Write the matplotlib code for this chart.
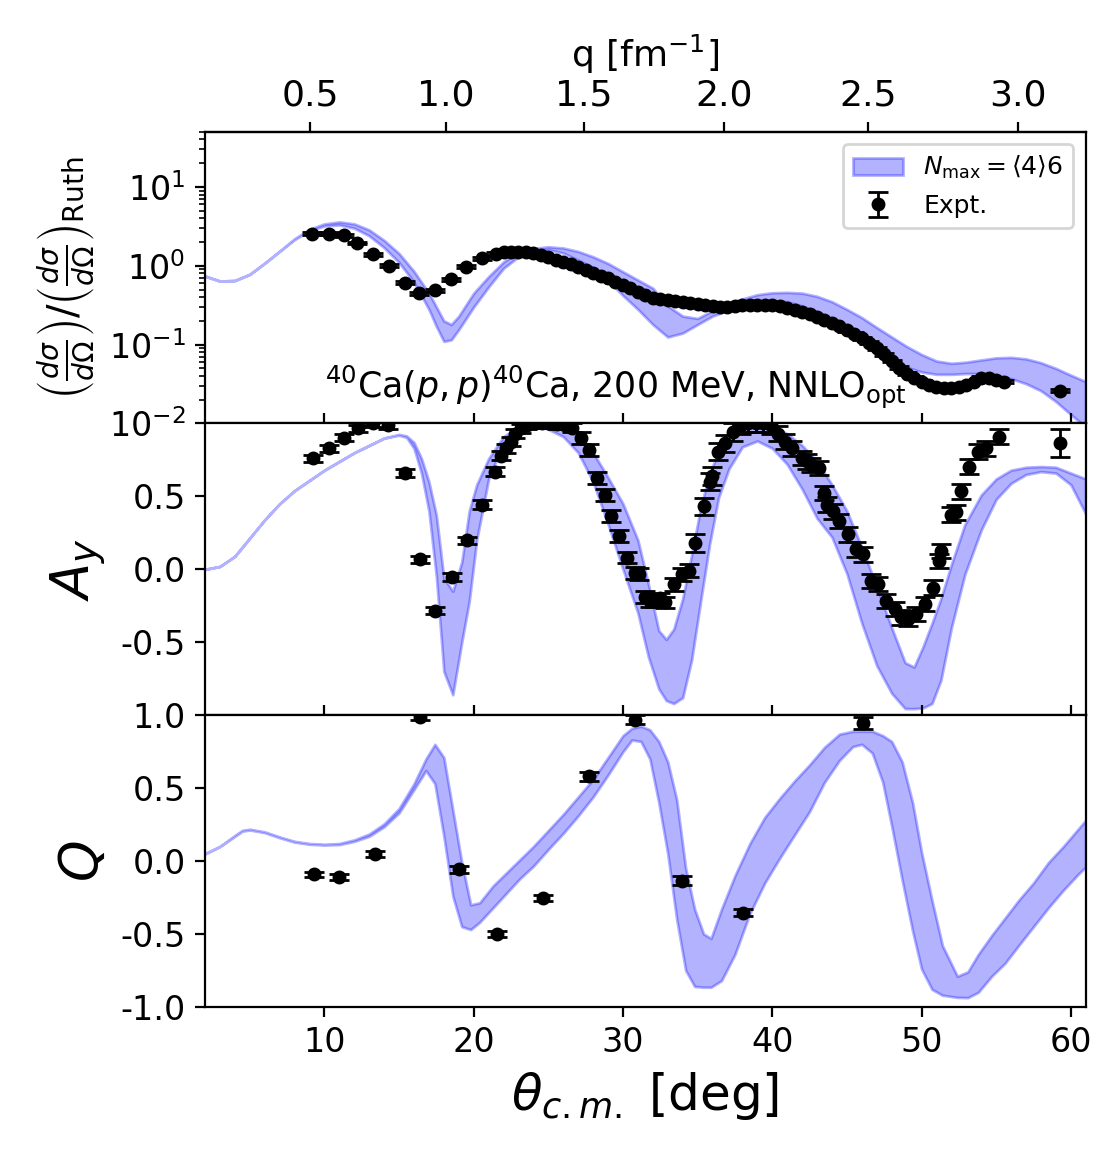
import numpy as np
import matplotlib
matplotlib.use("Agg")
from matplotlib import pyplot as plt

plt.rcParams['axes.unicode_minus'] = False

# ---- theory band: dsigma/dOmega ratio to Rutherford ----
th_xs = [2, 3, 4, 5, 6, 7, 8, 9, 10, 11, 12, 13, 14, 15, 16, 17, 17.5, 18, 18.5, 19,
         20, 21, 22, 23, 24, 25, 26, 27, 28, 29, 30, 31, 32, 33, 34, 35, 36, 37, 38, 39,
         40, 41, 42, 43, 44, 45, 46, 47, 48, 49, 50, 51, 52, 53, 54, 55, 56, 57, 58, 59, 60, 61]
xs_lo = [0.74, 0.64, 0.65, 0.78, 1.08, 1.53, 2.15, 2.8, 3.2, 3.3, 3.0, 2.4, 1.7, 1.1, 0.62, 0.28, 0.17, 0.11, 0.115, 0.155,
         0.3, 0.54, 0.93, 1.3, 1.5, 1.6, 1.45, 1.18, 0.95, 0.65, 0.42, 0.28, 0.18, 0.125, 0.14, 0.18, 0.23, 0.27, 0.31, 0.34,
         0.36, 0.35, 0.31, 0.26, 0.21, 0.16, 0.12, 0.085, 0.065, 0.052, 0.045, 0.042, 0.042, 0.043, 0.043, 0.041, 0.037, 0.032, 0.026, 0.019, 0.013, 0.009]
xs_hi = [0.74, 0.64, 0.65, 0.78, 1.08, 1.53, 2.2, 2.9, 3.4, 3.6, 3.4, 2.85, 2.1, 1.43, 0.85, 0.45, 0.3, 0.2, 0.18, 0.23,
         0.45, 0.73, 1.12, 1.5, 1.66, 1.74, 1.68, 1.52, 1.3, 1.07, 0.84, 0.66, 0.52, 0.31, 0.23, 0.215, 0.27, 0.33, 0.38, 0.43,
         0.455, 0.46, 0.45, 0.41, 0.35, 0.28, 0.22, 0.165, 0.125, 0.095, 0.075, 0.062, 0.058, 0.06, 0.064, 0.068, 0.069, 0.066, 0.059, 0.05, 0.041, 0.034]

# ---- experiment: cross section ratio ----
ex_xs_th = [9.19, 10.3, 11.29, 12.17, 13.24, 14.31, 15.43, 16.36, 17.43, 18.48, 19.48, 20.55,
            21.5, 22.0, 22.5, 23.0, 23.5, 24.0, 24.5, 25.0, 25.5, 26.0, 26.5, 27.0, 27.5, 28.0,
            28.5, 29.0, 29.5, 30.0, 30.5, 31.0, 31.5, 32.0, 32.5, 33.0, 33.5, 34.0, 34.5, 35.0,
            35.5, 36.0, 36.5, 37.0, 37.5, 38.0, 38.5, 39.0, 39.5, 40.0, 40.5, 41.0, 41.5, 42.0,
            42.5, 43.0, 43.5, 44.0, 44.5, 45.0, 45.5, 46.0, 46.5, 47.0, 47.5, 48.0, 48.5, 49.0,
            49.5, 50.0, 50.5, 51.0, 51.5, 52.0, 52.5, 53.0, 53.5, 54.0, 54.5, 55.0, 55.5, 59.3]
ex_xs = [2.56, 2.56, 2.44, 1.95, 1.39, 1.0, 0.61, 0.45, 0.49, 0.67, 0.97, 1.24,
         1.43, 1.48, 1.50, 1.50, 1.49, 1.46, 1.36, 1.28, 1.20, 1.12, 1.04, 0.96, 0.88, 0.81,
         0.75, 0.69, 0.63, 0.57, 0.52, 0.47, 0.42, 0.39, 0.375, 0.37, 0.36, 0.35, 0.34, 0.33,
         0.32, 0.31, 0.30, 0.30, 0.31, 0.32, 0.32, 0.315, 0.32, 0.32, 0.31, 0.29, 0.275, 0.26,
         0.245, 0.225, 0.205, 0.19, 0.17, 0.152, 0.137, 0.12, 0.106, 0.09, 0.075, 0.062, 0.051, 0.043,
         0.038, 0.034, 0.031, 0.029, 0.028, 0.028, 0.029, 0.031, 0.034, 0.038, 0.038, 0.036, 0.034, 0.026]
xs_rel_err = 0.04

# ---- theory band: A_y ----
th_ay = [2, 3, 4, 5, 6, 7, 8, 9, 10, 11, 12, 13, 14, 15, 15.5, 16, 16.5, 17, 17.5, 18,
         18.6, 19.2, 19.7, 20.2, 21, 22, 23, 24, 25, 26, 27, 28, 29, 30, 31, 31.7, 32.4, 32.9, 33.4, 34,
         34.6, 35.2, 35.8, 36.4, 37.1, 38, 39, 40, 41, 42, 43, 44, 45, 46, 47, 48, 48.9, 49.5, 50.1, 50.7,
         51.3, 52, 52.9, 54, 55, 56, 57, 58, 59, 60, 61]
ay_lo = [0.0, 0.02, 0.09, 0.215, 0.34, 0.45, 0.54, 0.61, 0.68, 0.74, 0.80, 0.85, 0.90, 0.92, 0.905, 0.83, 0.66, 0.40, -0.05, -0.70,
         -0.86, -0.50, -0.22, 0.20, 0.62, 0.87, 0.96, 0.99, 0.96, 0.91, 0.80, 0.60, 0.31, 0.0, -0.30, -0.60, -0.82, -0.90, -0.92, -0.88,
         -0.62, -0.22, 0.17, 0.49, 0.69, 0.84, 0.88, 0.83, 0.72, 0.55, 0.35, 0.22, -0.03, -0.37, -0.66, -0.85, -0.955, -0.955, -0.95, -0.92,
         -0.76, -0.40, -0.035, 0.27, 0.48, 0.59, 0.65, 0.67, 0.66, 0.58, 0.38]
ay_hi = [0.0, 0.02, 0.09, 0.215, 0.34, 0.45, 0.54, 0.61, 0.68, 0.74, 0.80, 0.85, 0.90, 0.925, 0.915, 0.87, 0.76, 0.60, 0.37, -0.06,
         -0.15, 0.05, 0.40, 0.58, 0.76, 0.91, 0.975, 1.0, 1.0, 0.98, 0.91, 0.80, 0.63, 0.45, 0.20, -0.10, -0.42, -0.48, -0.41, -0.20,
         0.10, 0.42, 0.66, 0.80, 0.88, 0.97, 0.99, 0.98, 0.93, 0.85, 0.74, 0.58, 0.40, 0.15, -0.12, -0.40, -0.64, -0.67, -0.53, -0.37,
         -0.20, 0.034, 0.307, 0.51, 0.62, 0.68, 0.70, 0.705, 0.70, 0.66, 0.62]

# ---- experiment: A_y ----
ex_ay_th = [9.24, 10.31, 11.29, 12.24, 13.24, 14.25, 15.43, 16.4, 17.43, 18.52, 19.52, 20.55, 21.44, 21.8,
            22.15, 22.5, 22.8, 23.15, 23.6, 24.1, 24.6, 25.1, 25.6, 26.1, 26.6, 27.2, 27.7, 28.27, 28.79, 29.2,
            29.72, 30.28, 30.79, 31.06, 31.5, 31.84, 32.17, 32.5, 32.84, 33.4, 33.95, 34.4, 34.85, 35.4, 35.85,
            35.95, 36.4, 36.85, 37.4, 37.9, 38.4, 38.9, 39.4, 39.9, 40.4, 40.86, 41.3, 41.97, 42.3, 42.6, 43.1,
            43.5, 43.64, 44.1, 44.5, 45.1, 45.6, 46.1, 46.6, 47.1, 47.6, 48.2, 48.6, 49.1, 49.65, 50.2, 50.8,
            51.2, 51.3, 52.0, 52.3, 52.65, 53.2, 53.8, 54.3, 55.2, 59.3]
ex_ay = [0.762, 0.83, 0.903, 0.966, 1.0, 0.99, 0.66, 0.068, -0.284, -0.052, 0.198, 0.443, 0.67, 0.78,
         0.83, 0.875, 0.93, 0.966, 0.99, 1.0, 1.0, 1.0, 0.995, 0.99, 0.97, 0.90, 0.82, 0.626, 0.51, 0.364,
         0.227, 0.08, -0.023, -0.034, -0.19, -0.216, -0.216, -0.20, -0.227, -0.102, -0.034, -0.011, 0.182, 0.432, 0.602,
         0.64, 0.807, 0.864, 0.943, 0.99, 1.0, 1.0, 1.0, 0.99, 0.93, 0.875, 0.83, 0.762, 0.74, 0.716, 0.694,
         0.523, 0.443, 0.398, 0.33, 0.239, 0.136, 0.102, -0.08, -0.102, -0.216, -0.273, -0.33, -0.341, -0.307, -0.239, -0.125,
         0.057, 0.125, 0.375, 0.39, 0.534, 0.705, 0.807, 0.83, 0.909, 0.864]
ex_ay_err = [0.025, 0.025, 0.025, 0.025, 0.025, 0.025, 0.025, 0.025, 0.025, 0.025, 0.025, 0.03, 0.03, 0.03,
             0.03, 0.03, 0.03, 0.03, 0.03, 0.03, 0.03, 0.03, 0.03, 0.03, 0.03, 0.04, 0.04, 0.04, 0.04, 0.04,
             0.04, 0.04, 0.04, 0.04, 0.04, 0.04, 0.04, 0.04, 0.04, 0.045, 0.045, 0.045, 0.06, 0.06, 0.06,
             0.06, 0.06, 0.06, 0.06, 0.06, 0.06, 0.06, 0.06, 0.06, 0.05, 0.05, 0.05, 0.05, 0.05, 0.05, 0.05,
             0.05, 0.05, 0.05, 0.05, 0.05, 0.05, 0.05, 0.05, 0.05, 0.05, 0.05, 0.05, 0.05, 0.05, 0.05, 0.05,
             0.05, 0.05, 0.05, 0.05, 0.05, 0.05, 0.05, 0.05, 0.05, 0.095]

# ---- theory band: Q ----
th_q = [2, 3, 4, 4.5, 5, 6, 7, 8, 9, 10, 11, 12, 13, 14, 15, 16, 16.8, 17.4, 18.0, 18.6, 19.2,
        19.8, 20.4, 21.3, 22.2, 23.1, 24, 25, 26, 27, 28, 29, 30, 30.6, 31.2, 31.8, 32.4, 33.0, 33.6, 34.2, 34.8,
        35.4, 35.9, 36.6, 37.5, 38.5, 39.5, 40.5, 41.5, 42.5, 43.5, 44.5, 45.4, 46.0, 46.7, 47.4, 48.0, 48.7, 49.4, 50.0, 50.7,
        51.4, 52.4, 53.1, 53.8, 54.7, 55.6, 56.5, 57.5, 58.5, 59.5, 60.5, 61]
q_lo = [0.05, 0.10, 0.17, 0.205, 0.213, 0.195, 0.16, 0.13, 0.115, 0.11, 0.113, 0.135, 0.17, 0.235, 0.33, 0.49, 0.62, 0.53, 0.17, -0.24, -0.45,
        -0.47, -0.42, -0.32, -0.22, -0.12, -0.035, 0.08, 0.19, 0.31, 0.44, 0.59, 0.75, 0.83, 0.82, 0.70, 0.40, 0.05, -0.40, -0.75, -0.86,
        -0.865, -0.865, -0.82, -0.64, -0.36, -0.15, 0.02, 0.18, 0.34, 0.54, 0.69, 0.785, 0.80, 0.74, 0.54, 0.24, -0.13, -0.48, -0.74, -0.88,
        -0.92, -0.935, -0.937, -0.90, -0.79, -0.70, -0.58, -0.45, -0.32, -0.20, -0.09, -0.04]
q_hi = [0.05, 0.10, 0.175, 0.21, 0.218, 0.20, 0.165, 0.135, 0.12, 0.115, 0.12, 0.145, 0.185, 0.255, 0.36, 0.53, 0.70, 0.80, 0.71, 0.35, -0.01,
        -0.30, -0.286, -0.17, -0.08, 0.01, 0.10, 0.21, 0.32, 0.44, 0.56, 0.71, 0.86, 0.91, 0.925, 0.90, 0.82, 0.68, 0.42, -0.05, -0.33,
        -0.50, -0.53, -0.33, -0.10, 0.12, 0.30, 0.43, 0.55, 0.66, 0.78, 0.87, 0.89, 0.89, 0.89, 0.86, 0.82, 0.68, 0.40, 0.06, -0.27,
        -0.58, -0.79, -0.76, -0.64, -0.51, -0.39, -0.27, -0.15, -0.01, 0.10, 0.22, 0.28]

# ---- experiment: Q ----
ex_q_th = [9.3, 10.97, 13.36, 16.43, 19.03, 21.53, 24.67, 27.72, 30.79, 33.95, 38.03, 46.1]
ex_q = [-0.092, -0.108, 0.051, 0.99, -0.058, -0.499, -0.252, 0.581, 0.969, -0.134, -0.355, 0.946]
ex_q_err = [0.02, 0.02, 0.02, 0.02, 0.025, 0.02, 0.02, 0.03, 0.03, 0.03, 0.025, 0.04]

k_cm = 3.17  # fm^-1, c.m. momentum for p + 40Ca at 200 MeV

def th2q(th):
    return 2*k_cm*np.sin(np.radians(th)/2)

def q2th(q):
    return 2*np.degrees(np.arcsin(np.clip(q/(2*k_cm), -1, 1)))


fig, (ax1, ax2, ax3) = plt.subplots(3, 1, sharex=True, figsize=(11.17/2, 11.56/2), dpi=200)
fig.subplots_adjust(left=0.1835, right=0.972, top=0.886, bottom=0.129, hspace=0)

band = dict(color='blue', alpha=0.3, lw=1)
ebar = dict(fmt='o', color='k', ms=4, capsize=3.5, elinewidth=1, capthick=1)

# top panel
ax1.fill_between(th_xs, xs_lo, xs_hi, label=r'$N_{\rm max}=\langle 4\rangle 6$', **band)
ax1.errorbar(ex_xs_th, ex_xs, yerr=xs_rel_err*np.array(ex_xs), label='Expt.', **ebar)
ax1.set_yscale('log')
ax1.set_ylim(1e-2, 50)
ax1.set_ylabel(r'$\left(\frac{d\sigma}{d\Omega}\right)/\left(\frac{d\sigma}{d\Omega}\right)_{\rm Ruth}$', fontsize=14.5)
ax1.legend(loc='upper right', fontsize=9)
ax1.text(0.466, 0.125, r'$^{40}$Ca$(p,p)^{40}$Ca, 200 MeV, NNLO$_{\rm opt}$',
         transform=ax1.transAxes, ha='center', va='center', fontsize=12.5)
ax1.tick_params(axis='x', direction='in', top=False, labelbottom=False)

secax = ax1.secondary_xaxis('top', functions=(th2q, q2th))
secax.set_xticks([0.5, 1.0, 1.5, 2.0, 2.5, 3.0])
secax.set_xlabel(r'q [fm$^{-1}$]', fontsize=13)
secax.tick_params(labelsize=13)

# middle panel
ax2.fill_between(th_ay, ay_lo, ay_hi, **band)
ax2.errorbar(ex_ay_th, ex_ay, yerr=ex_ay_err, **ebar)
ax2.set_ylim(-1, 1)
ax2.set_yticks([-0.5, 0.0, 0.5])
ax2.set_ylabel(r'$A_y$', fontsize=19)
ax2.tick_params(axis='x', direction='in', labelbottom=False)

# bottom panel
ax3.fill_between(th_q, q_lo, q_hi, **band)
ax3.errorbar(ex_q_th, ex_q, yerr=ex_q_err, **ebar)
ax3.set_ylim(-1, 1)
ax3.set_yticks([-1.0, -0.5, 0.0, 0.5, 1.0])
ax3.set_ylabel(r'$Q$', fontsize=19)
ax3.set_xlabel(r'$\theta_{c.m.}$ [deg]', fontsize=18)

ax3.set_xlim(2, 61)
for ax in (ax1, ax2, ax3):
    ax.tick_params(axis='y', labelsize=12)
    ax.tick_params(axis='x', labelsize=12)

fig.savefig('out.png', dpi=200)
